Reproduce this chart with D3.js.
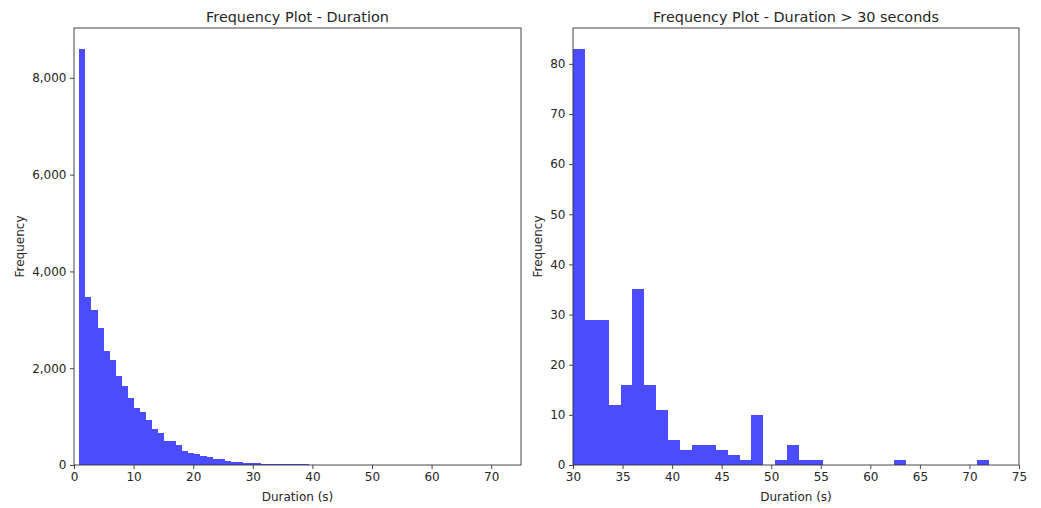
<!DOCTYPE html>
<html>
<head>
<meta charset="utf-8">
<script src="https://cdn.jsdelivr.net/npm/d3@7"></script>
<style>
  body { margin: 0; background: #fff; }
  svg { font-family: 'DejaVu Sans', sans-serif; }
</style>
</head>
<body>
<div class="main"></div>
<script>
// Histogram 1 : toutes les durées (bins de ~1.016 s à partir de 0.9 s)
const allStart = 0.9;
const allWidth = 1.016;
const allCounts = [8600, 3480, 3205, 2827, 2357, 2165, 1834, 1634, 1386, 1172,
  1090, 940, 738, 665, 490, 490, 420, 293, 245, 217,
  189, 162, 118, 118, 89, 65, 65, 48, 48, 45,
  22, 22, 22, 18, 20, 24, 18, 14, 10, 5,
  3, 4, 4, 3, 2, 1, 1, 10, 0, 1,
  4, 1, 1, 1, 0, 0, 0, 0, 0, 0,
  0, 1, 0, 0, 0, 0, 0, 0, 0, 1];

// Histogram 2 : durées > 30 s (bins de 1.2 s)
const longStart = 30;
const longWidth = 1.2;
const longCounts = [83, 29, 29, 12, 16, 35, 16, 11, 5, 3,
  4, 4, 3, 2, 1, 10, 0, 1, 4, 1,
  1, 0, 0, 0, 0, 0, 0, 1, 0, 0,
  0, 0, 0, 0, 1];

const allXTicks = [0, 10, 20, 30, 40, 50, 60, 70];
const allYTicks = [0, 2000, 4000, 6000, 8000];
const longXTicks = [30, 35, 40, 45, 50, 55, 60, 65, 70, 75];
const longYTicks = [0, 10, 20, 30, 40, 50, 60, 70, 80];

const width = 1041;
const height = 508;
const plotTop = 28, plotBottom = 465;
const barColor = '#4c4cff';
const textColor = '#262626';

const svg = d3.select('.main')
  .append('svg')
  .attr('width', width)
  .attr('height', height);

function histo(opts) {
  const bins = opts.counts.map((c, i) => ({
    x0: opts.start + i * opts.binWidth,
    x1: opts.start + (i + 1) * opts.binWidth,
    n: c
  }));

  const x = d3.scaleLinear().domain(opts.xDomain).range([opts.left, opts.right]);
  const y = d3.scaleLinear().domain([0, d3.max(opts.counts) * 1.05]).range([plotBottom, plotTop]);

  const g = svg.append('g');

  // barres
  g.append('g')
    .attr('shape-rendering', 'crispEdges')
    .selectAll('rect')
    .data(bins.filter(d => d.n > 0))
    .enter()
    .append('rect')
    .attr('x', d => x(d.x0))
    .attr('width', d => x(d.x1) - x(d.x0))
    .attr('y', d => y(d.n))
    .attr('height', d => y(0) - y(d.n))
    .attr('fill', barColor);

  // axes
  const ax = g.append('g')
    .attr('transform', `translate(0, ${plotBottom})`)
    .call(d3.axisBottom(x).tickValues(opts.xTicks).tickSize(4).tickPadding(3.5)
      .tickFormat(d3.format('d')));
  const ay = g.append('g')
    .attr('transform', `translate(${opts.left}, 0)`)
    .call(d3.axisLeft(y).tickValues(opts.yTicks).tickSize(4).tickPadding(3.5)
      .tickFormat(opts.yFormat));
  [ax, ay].forEach(a => {
    a.select('.domain').remove();
    a.selectAll('text').attr('font-size', 12).attr('fill', textColor)
      .attr('font-family', "'DejaVu Sans', sans-serif");
    a.selectAll('line').attr('stroke', '#333').attr('stroke-width', 0.9);
  });

  // cadre
  g.append('rect')
    .attr('x', opts.left).attr('y', plotTop)
    .attr('width', opts.right - opts.left).attr('height', plotBottom - plotTop)
    .attr('fill', 'none').attr('stroke', '#333').attr('stroke-width', 0.9);

  // titres
  g.append('text')
    .attr('x', (opts.left + opts.right) / 2).attr('y', 22)
    .attr('text-anchor', 'middle').attr('font-size', 14.4)
    .attr('fill', textColor)
    .text(opts.title);
  g.append('text')
    .attr('x', (opts.left + opts.right) / 2).attr('y', 501)
    .attr('text-anchor', 'middle').attr('font-size', 12)
    .attr('fill', textColor)
    .text('Duration (s)');
  g.append('text')
    .attr('transform', `translate(${opts.ylabelX}, ${(plotTop + plotBottom) / 2}) rotate(-90)`)
    .attr('text-anchor', 'middle').attr('font-size', 12)
    .attr('fill', textColor)
    .text('Frequency');
}

histo({
  counts: allCounts, start: allStart, binWidth: allWidth,
  xDomain: [0, 75], left: 74, right: 521,
  xTicks: allXTicks, yTicks: allYTicks, yFormat: d3.format(','),
  title: 'Frequency Plot - Duration', ylabelX: 24
});

histo({
  counts: longCounts, start: longStart, binWidth: longWidth,
  xDomain: [30, 75], left: 573, right: 1019,
  xTicks: longXTicks, yTicks: longYTicks, yFormat: d3.format('d'),
  title: 'Frequency Plot - Duration > 30 seconds', ylabelX: 542
});
</script>
</body>
</html>
